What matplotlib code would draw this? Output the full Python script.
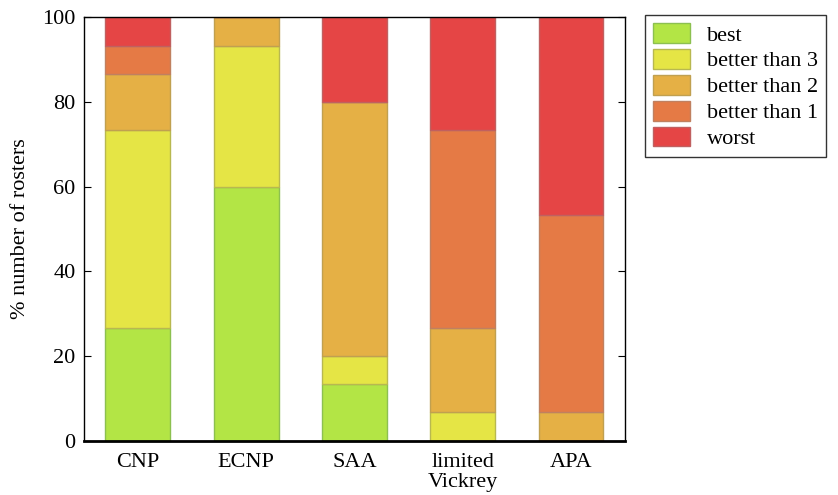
import numpy as np
import matplotlib.pyplot as plt

plt.rcParams['font.family'] = ['Liberation Serif', 'DejaVu Serif']

methods = ['CNP', 'ECNP', 'SAA', 'limited\nVickrey', 'APA']
labels = ['best', 'better than 3', 'better than 2', 'better than 1', 'worst']
best = [26.67, 60.0, 13.33, 0.0, 0.0]
better3 = [46.67, 33.33, 6.67, 6.67, 0.0]
better2 = [13.33, 6.67, 60.0, 20.0, 6.67]
better1 = [6.67, 0.0, 0.0, 46.67, 46.67]
worst = [6.67, 0.0, 20.0, 26.67, 46.67]
colors = ['#b3e545', '#e5e545', '#e5b045', '#e57a45', '#e54545']
edges = ['#8cc050', '#b8b850', '#c0a050', '#c08060', '#c06060']

fig = plt.figure(figsize=(8.38, 4.95), dpi=100)
ax = fig.add_axes([0.1, 0.11, 0.646, 0.855])

x = np.arange(len(methods))
bottom = np.zeros(len(methods))
for vals, lab, c, ec in zip([best, better3, better2, better1, worst], labels, colors, edges):
    ax.bar(x, vals, 0.6, bottom=bottom, color=c, edgecolor=ec, linewidth=1, label=lab)
    bottom += np.array(vals)

fs = 16
ax.set_xlim(-0.5, 4.5)
ax.set_ylim(0, 100)
ax.set_xticks(x)
ax.set_xticklabels(methods, fontsize=fs, linespacing=1.1)
ax.set_yticks([0, 20, 40, 60, 80, 100])
ax.tick_params(axis='y', labelsize=fs, direction='in', right=True, length=5, pad=6)
ax.tick_params(axis='x', length=0, pad=9)
ax.set_ylabel('% number of rosters', fontsize=fs, labelpad=9)
ax.spines['bottom'].set_linewidth(2)
for s in ['left', 'right', 'top']:
    ax.spines[s].set_linewidth(1)

leg = ax.legend(loc='upper left', bbox_to_anchor=(1.037, 1.005), fontsize=fs,
                frameon=True, fancybox=False, edgecolor='black',
                handlelength=1.65, handleheight=1.0, labelspacing=0.15,
                borderpad=0.35, handletextpad=0.8, borderaxespad=0)
leg.get_frame().set_linewidth(1)

fig.savefig('out.png', dpi=100)
